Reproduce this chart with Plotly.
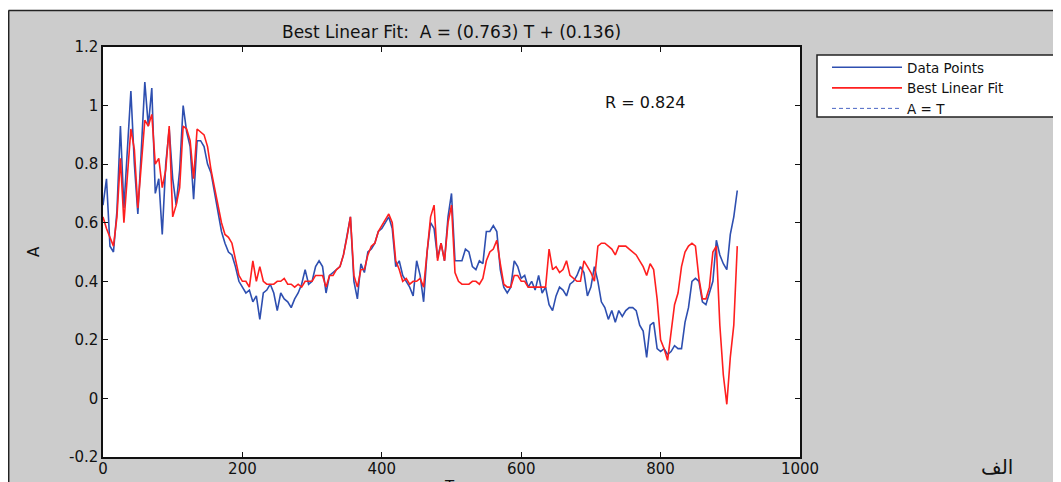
import plotly.graph_objects as go

# ---------------- data ----------------
t_values = list(range(0, 915, 5))

data_points = [
    0.66, 0.75, 0.52, 0.50, 0.64, 0.93, 0.65, 0.85, 1.05, 0.80,
    0.63, 0.85, 1.08, 0.93, 1.06, 0.70, 0.75, 0.56, 0.80, 0.92,
    0.75, 0.66, 0.78, 1.00, 0.91, 0.86, 0.68, 0.88, 0.88, 0.86,
    0.80, 0.77, 0.70, 0.63, 0.57, 0.53, 0.50, 0.49, 0.45, 0.40,
    0.38, 0.36, 0.37, 0.33, 0.35, 0.27, 0.36, 0.37,
    0.39, 0.36, 0.30, 0.36, 0.34, 0.33, 0.31, 0.34, 0.36, 0.39,
    0.44, 0.39, 0.40, 0.45, 0.47, 0.45, 0.36, 0.42, 0.43, 0.44,
    0.45, 0.49, 0.56, 0.62, 0.40, 0.34, 0.46, 0.43, 0.50, 0.51,
    0.53, 0.57, 0.58, 0.60, 0.62, 0.58, 0.45, 0.47, 0.42, 0.40,
    0.38, 0.35, 0.47, 0.42, 0.33, 0.50, 0.60, 0.58, 0.48, 0.53,
    0.47, 0.62, 0.70, 0.47, 0.47, 0.47, 0.51, 0.50, 0.45, 0.44,
    0.47, 0.46, 0.57, 0.57, 0.59, 0.57, 0.44, 0.38, 0.36, 0.38,
    0.47, 0.45, 0.41, 0.42, 0.38, 0.40, 0.37, 0.42, 0.36, 0.38,
    0.32, 0.30, 0.35, 0.38, 0.37, 0.35, 0.39, 0.40, 0.42, 0.45,
    0.43, 0.35, 0.38, 0.45, 0.40, 0.33, 0.31, 0.27, 0.30, 0.26,
    0.30, 0.28, 0.30, 0.31, 0.31, 0.30, 0.25, 0.23, 0.14, 0.25,
    0.26, 0.17, 0.16, 0.17, 0.15, 0.16, 0.18, 0.17, 0.17, 0.26,
    0.31, 0.40, 0.41, 0.40, 0.33, 0.32, 0.36, 0.40, 0.54, 0.49,
    0.46, 0.44, 0.56, 0.62, 0.71,
]

best_fit = [
    0.62, 0.58, 0.55, 0.52, 0.62, 0.82, 0.60, 0.75, 0.92, 0.85,
    0.65, 0.80, 0.95, 0.93, 0.97, 0.80, 0.82, 0.72, 0.78, 0.93,
    0.62, 0.66, 0.72, 0.93, 0.92, 0.88, 0.75, 0.92, 0.91, 0.90,
    0.86, 0.78, 0.72, 0.66, 0.60, 0.56, 0.55, 0.53, 0.47, 0.42,
    0.40, 0.40, 0.38, 0.47, 0.40, 0.45, 0.40, 0.39,
    0.39, 0.39, 0.40, 0.40, 0.41, 0.39, 0.39, 0.38, 0.39, 0.38,
    0.40, 0.40, 0.40, 0.42, 0.42, 0.42, 0.38, 0.42, 0.42, 0.44,
    0.45, 0.49, 0.55, 0.62, 0.42, 0.38, 0.44, 0.44, 0.49, 0.52,
    0.53, 0.57, 0.59, 0.61, 0.63, 0.60, 0.47, 0.44, 0.40, 0.41,
    0.39, 0.40, 0.40, 0.41, 0.38, 0.50, 0.62, 0.66, 0.47, 0.53,
    0.47, 0.60, 0.66, 0.43, 0.40, 0.39, 0.39, 0.39, 0.40, 0.40,
    0.39, 0.41, 0.47, 0.50, 0.51, 0.54, 0.46, 0.39, 0.38, 0.38,
    0.42, 0.42, 0.40, 0.40, 0.38, 0.38, 0.38, 0.38, 0.38, 0.38,
    0.51, 0.44, 0.45, 0.43, 0.44, 0.47, 0.42, 0.41, 0.40, 0.40,
    0.47, 0.45, 0.43, 0.40, 0.52, 0.53, 0.53, 0.52, 0.51, 0.49,
    0.52, 0.52, 0.52, 0.51, 0.50, 0.49, 0.47, 0.45, 0.42, 0.46,
    0.44, 0.34, 0.20, 0.17, 0.13, 0.22, 0.32, 0.36, 0.45, 0.50,
    0.52, 0.53, 0.52, 0.41, 0.34, 0.34, 0.38, 0.50, 0.52, 0.25,
    0.08, -0.02, 0.14, 0.25, 0.52,
]

x_ticks = [0, 200, 400, 600, 800, 1000]
y_ticks = [-0.2, 0, 0.2, 0.4, 0.6, 0.8, 1.0, 1.2]
y_tick_labels = ["-0.2", "0", "0.2", "0.4", "0.6", "0.8", "1", "1.2"]

series_names = ["Data Points", "Best Linear Fit", "A = T"]
title_text = "Best Linear Fit:  A = (0.763) T + (0.136)"
r_text = "R = 0.824"

# ---------------- figure ----------------
FONT = "DejaVu Sans"
BLUE = "#2e4fb0"
RED = "#ff1f1f"
INK = "#111111"

fig = go.Figure()
fig.add_trace(go.Scatter(x=t_values, y=data_points, mode="lines", name=series_names[0],
                         line=dict(color=BLUE, width=1.6)))
fig.add_trace(go.Scatter(x=t_values, y=best_fit, mode="lines", name=series_names[1],
                         line=dict(color=RED, width=1.6)))
# A = T reference line: coincides with the left axis at this scale, so only its legend entry shows
fig.add_trace(go.Scatter(x=[None], y=[None], mode="lines", name=series_names[2],
                         line=dict(color="#4a66c4", width=1, dash="4px,3px")))

# the page shows the figure offset by the 8px body margin
OFF = 8
W, H = 1061 - OFF, 482 - OFF
L, R, T, B = 103 - OFF, W - (800 - OFF), 47 - OFF, H - (457 - OFF)
PW, PH = W - L - R, H - T - B


def px(page_x):
    return (page_x - OFF - L) / PW


def py(page_y):
    return (H - B - (page_y - OFF)) / PH


shapes = [
    dict(type="rect", xref="paper", yref="paper", x0=px(0), x1=px(1100), y0=py(10), y1=py(0),
         fillcolor="white", line=dict(width=0), layer="below"),
    dict(type="line", xref="paper", yref="paper", x0=px(8.5), x1=px(1100), y0=py(10.5), y1=py(10.5),
         line=dict(color="#222222", width=1.5), layer="below"),
    dict(type="line", xref="paper", yref="paper", x0=px(8.7), x1=px(8.7), y0=py(10.5), y1=py(500),
         line=dict(color="#222222", width=1.5), layer="below"),
    dict(type="rect", xref="paper", yref="paper", x0=px(817), x1=px(1100), y0=py(55), y1=py(117),
         fillcolor="white", line=dict(color="#222222", width=1.5), layer="below"),
]

annotations = [
    dict(text=title_text, xref="paper", yref="paper", x=px(451), y=py(32), showarrow=False,
         xanchor="center", yanchor="middle", font=dict(family=FONT, size=17, color=INK)),
    dict(text=r_text, xref="x", yref="y", x=778, y=1.01, showarrow=False,
         xanchor="center", yanchor="middle", font=dict(family=FONT, size=16, color=INK)),
    dict(text="A", xref="paper", yref="paper", x=px(34), y=py(252), showarrow=False, textangle=-90,
         xanchor="center", yanchor="middle", font=dict(family=FONT, size=15, color=INK)),
    dict(text="T", xref="paper", yref="paper", x=px(449), y=py(476), showarrow=False,
         xanchor="center", yanchor="top", font=dict(family=FONT, size=15, color=INK)),
    dict(text="الف", xref="paper", yref="paper", x=px(997), y=py(467), showarrow=False,
         xanchor="center", yanchor="middle",
         font=dict(family="DejaVu Serif, DejaVu Sans", size=20, color=INK)),
]

fig.update_layout(
    width=W, height=H,
    margin=dict(l=L, r=R, t=T, b=B, autoexpand=False),
    paper_bgcolor="#cccccc",
    plot_bgcolor="white",
    showlegend=True,
    legend=dict(x=px(827), y=py(52), xanchor="left", yanchor="top",
                bgcolor="rgba(0,0,0,0)", borderwidth=0,
                font=dict(family=FONT, size=13.5, color=INK),
                itemwidth=70, tracegroupgap=0),
    shapes=shapes,
    annotations=annotations,
    xaxis=dict(range=[0, 1000], tickvals=x_ticks, ticks="inside", ticklen=5, tickcolor=INK,
               showline=True, linecolor=INK, linewidth=1.5, mirror="ticks",
               showgrid=False, zeroline=False, ticklabelstandoff=-3,
               tickfont=dict(family=FONT, size=15, color=INK)),
    yaxis=dict(range=[-0.2, 1.2], tickvals=y_ticks, ticktext=y_tick_labels, ticks="inside", ticklen=5,
               tickcolor=INK, showline=True, linecolor=INK, linewidth=1.5, mirror="ticks",
               showgrid=False, zeroline=False,
               tickfont=dict(family=FONT, size=15, color=INK)),
)

fig.write_html("out.html")
